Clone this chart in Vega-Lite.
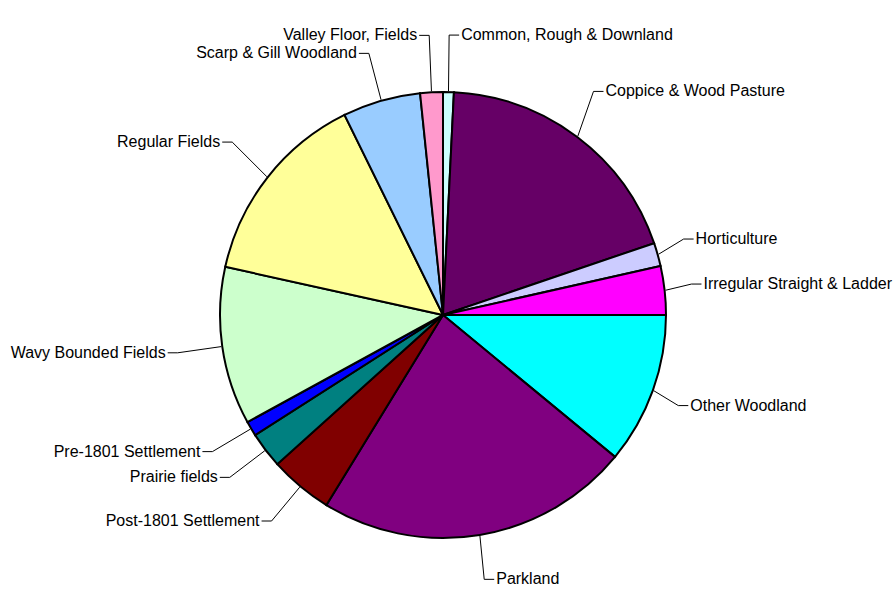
{
  "$schema": "https://vega.github.io/schema/vega-lite/v6.json",
  "width": 896,
  "height": 597,
  "autosize": {"type": "none"},
  "padding": 0,
  "background": "white",
  "config": {"view": {"stroke": null}, "text": {"font": "Liberation Sans", "fontSize": 16, "color": "black"}},
  "data": {
    "values": [
      {"ord": 1, "name": "Common, Rough & Downland", "value": 0.78},
      {"ord": 2, "name": "Coppice & Wood Pasture", "value": 19.0},
      {"ord": 3, "name": "Horticulture", "value": 1.69},
      {"ord": 4, "name": "Irregular Straight & Ladder", "value": 3.53},
      {"ord": 5, "name": "Other Woodland", "value": 10.97},
      {"ord": 6, "name": "Parkland", "value": 22.78},
      {"ord": 7, "name": "Post-1801 Settlement", "value": 4.58},
      {"ord": 8, "name": "Prairie fields", "value": 2.61},
      {"ord": 9, "name": "Pre-1801 Settlement", "value": 1.08},
      {"ord": 10, "name": "Wavy Bounded Fields", "value": 11.44},
      {"ord": 11, "name": "Regular Fields", "value": 14.25},
      {"ord": 12, "name": "Scarp & Gill Woodland", "value": 5.64},
      {"ord": 13, "name": "Valley Floor, Fields", "value": 1.64}
    ]
  },
  "transform": [
    {"window": [{"op": "sum", "field": "value", "as": "cum"}], "sort": [{"field": "ord"}], "frame": [null, 0]},
    {"joinaggregate": [{"op": "sum", "field": "value", "as": "total"}]},
    {"calculate": "(datum.cum - datum.value / 2) / datum.total * 2 * PI", "as": "a"},
    {"calculate": "sin(datum.a) >= 0 ? 'R' : 'L'", "as": "side"},
    {"calculate": "224 * sin(datum.a)", "as": "ex"},
    {"calculate": "224 * cos(datum.a)", "as": "ey"},
    {"calculate": "sin(datum.a) * (sin(datum.a) >= 0 ? 250 : 268)", "as": "lx"},
    {"calculate": "cos(datum.a) * (cos(datum.a) >= 0 ? 280 : 268)", "as": "ly0"},
    {"window": [{"op": "lag", "field": "ly0", "param": 1, "as": "prev"}], "groupby": ["side"], "sort": [{"field": "ly0", "order": "descending"}]},
    {"calculate": "isValid(datum.prev) ? min(datum.ly0, datum.prev - 18) : datum.ly0", "as": "ly"},
    {"calculate": "datum.lx + (datum.side == 'R' ? 10 : -10)", "as": "hx"},
    {"calculate": "datum.lx + (datum.side == 'R' ? 12 : -12)", "as": "tx"}
  ],
  "layer": [
    {
      "mark": {"type": "arc", "radius": 223, "stroke": "black", "strokeWidth": 2},
      "encoding": {
        "x": {"datum": 0, "type": "quantitative", "scale": {"domain": [-443, 453], "nice": false, "zero": false}, "axis": null},
        "y": {"datum": 0, "type": "quantitative", "scale": {"domain": [-282, 315], "nice": false, "zero": false}, "axis": null},
        "theta": {"field": "value", "type": "quantitative", "stack": true},
        "order": {"field": "ord", "type": "quantitative"},
        "color": {
          "field": "name",
          "type": "nominal",
          "legend": null,
          "scale": {
            "domain": ["Common, Rough & Downland", "Coppice & Wood Pasture", "Horticulture", "Irregular Straight & Ladder", "Other Woodland", "Parkland", "Post-1801 Settlement", "Prairie fields", "Pre-1801 Settlement", "Wavy Bounded Fields", "Regular Fields", "Scarp & Gill Woodland", "Valley Floor, Fields"],
            "range": ["#CCFFFF", "#660066", "#CCCCFF", "#FF00FF", "#00FFFF", "#800080", "#800000", "#008080", "#0000FF", "#CCFFCC", "#FFFF99", "#99CCFF", "#FF99CC"]
          }
        }
      }
    },
    {
      "mark": {"type": "rule", "color": "black", "strokeWidth": 1},
      "encoding": {
        "x": {"field": "ex", "type": "quantitative", "scale": {"domain": [-443, 453], "nice": false, "zero": false}, "axis": null},
        "y": {"field": "ey", "type": "quantitative", "scale": {"domain": [-282, 315], "nice": false, "zero": false}, "axis": null},
        "x2": {"field": "lx"},
        "y2": {"field": "ly"}
      }
    },
    {
      "mark": {"type": "rule", "color": "black", "strokeWidth": 1},
      "encoding": {
        "x": {"field": "lx", "type": "quantitative", "scale": {"domain": [-443, 453], "nice": false, "zero": false}, "axis": null},
        "y": {"field": "ly", "type": "quantitative", "scale": {"domain": [-282, 315], "nice": false, "zero": false}, "axis": null},
        "x2": {"field": "hx"}
      }
    },
    {
      "transform": [{"filter": "datum.side == 'R'"}],
      "mark": {"type": "text", "align": "left", "baseline": "middle"},
      "encoding": {
        "x": {"field": "tx", "type": "quantitative", "scale": {"domain": [-443, 453], "nice": false, "zero": false}, "axis": null},
        "y": {"field": "ly", "type": "quantitative", "scale": {"domain": [-282, 315], "nice": false, "zero": false}, "axis": null},
        "text": {"field": "name"}
      }
    },
    {
      "transform": [{"filter": "datum.side == 'L'"}],
      "mark": {"type": "text", "align": "right", "baseline": "middle"},
      "encoding": {
        "x": {"field": "tx", "type": "quantitative", "scale": {"domain": [-443, 453], "nice": false, "zero": false}, "axis": null},
        "y": {"field": "ly", "type": "quantitative", "scale": {"domain": [-282, 315], "nice": false, "zero": false}, "axis": null},
        "text": {"field": "name"}
      }
    }
  ]
}
